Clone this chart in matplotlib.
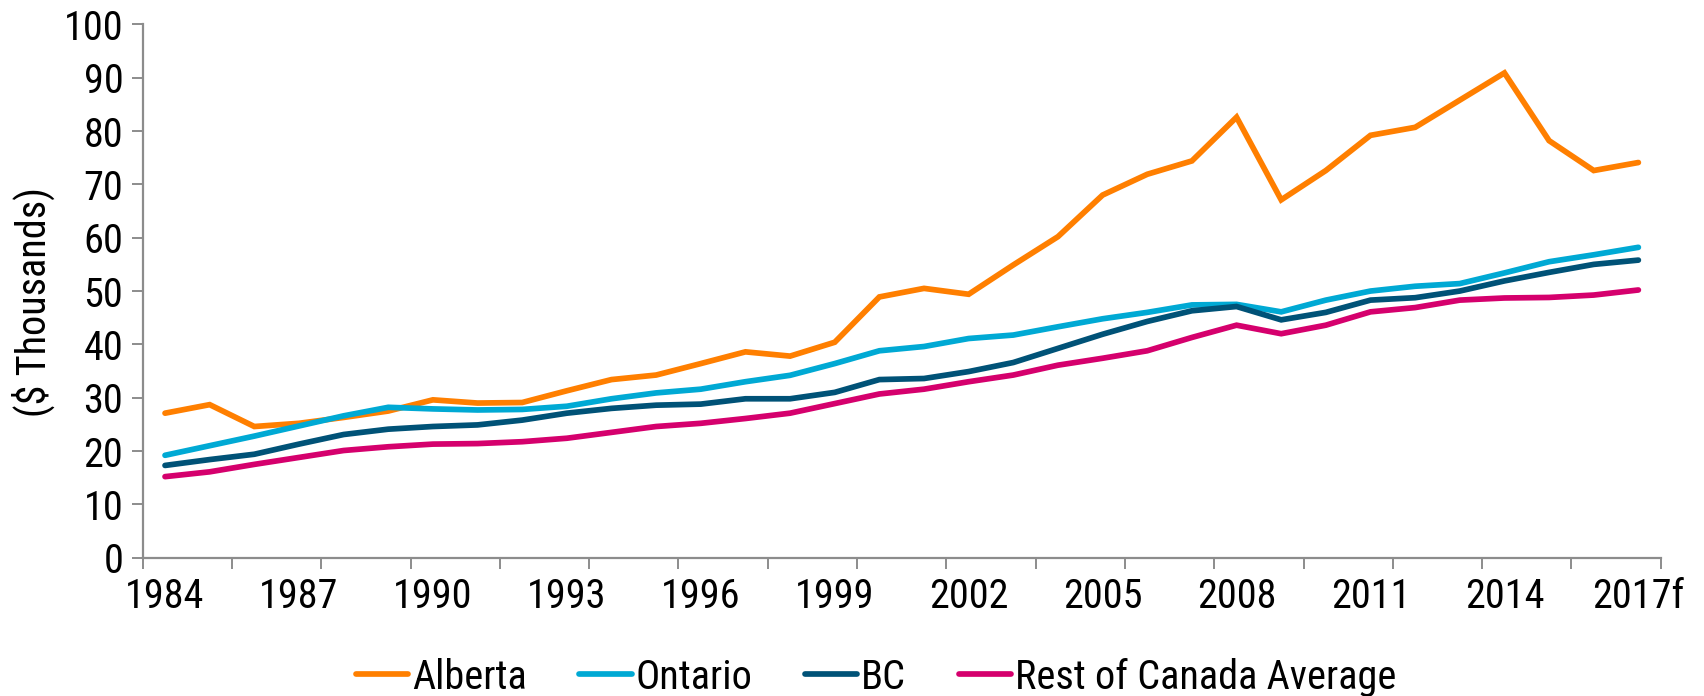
import matplotlib
matplotlib.use("Agg")
import matplotlib.pyplot as plt
from matplotlib import font_manager as fm
from matplotlib.ticker import FixedLocator, NullFormatter, FixedFormatter

# pick a narrow Arial-like face if present (reference uses a tall narrow sans)
installed = {f.name for f in fm.fontManager.ttflist}
choices = [("Roboto Condensed", 29), ("Liberation Sans Narrow", 32),
           ("Arial Narrow", 32), ("DejaVu Sans Condensed", 25),
           ("Liberation Sans", 27)]
FONT, FS = "Liberation Sans", 27
for name, size in choices:
    if name in installed:
        FONT, FS = name, size
        break
plt.rcParams['font.family'] = [FONT, 'DejaVu Sans']

years = [str(y) for y in range(1984, 2017)] + ["2017f"]
alberta = [27.1, 28.7, 24.6, 25.2, 26.3, 27.5, 29.6, 29.0, 29.1, 31.3,
           33.4, 34.25, 36.4, 38.6, 37.8, 40.4, 48.9, 50.5, 49.4, 54.9,
           60.2, 68.0, 71.9, 74.4, 82.6, 67.1, 72.6, 79.2, 80.7, 85.8,
           90.9, 78.2, 72.6, 74.1]
ontario = [19.2, 21.0, 22.8, 24.7, 26.6, 28.2, 27.9, 27.7, 27.8, 28.4,
           29.8, 30.9, 31.6, 33.0, 34.2, 36.4, 38.8, 39.6, 41.1, 41.75,
           43.3, 44.8, 46.0, 47.4, 47.5, 46.1, 48.3, 50.0, 50.9, 51.4,
           53.4, 55.5, 56.8, 58.2]
bc = [17.3, 18.4, 19.4, 21.3, 23.1, 24.1, 24.6, 24.9, 25.8, 27.1,
      28.0, 28.6, 28.8, 29.8, 29.8, 31.0, 33.4, 33.6, 34.9, 36.6,
      39.25, 41.9, 44.3, 46.3, 47.1, 44.6, 46.0, 48.3, 48.75, 50.0,
      51.9, 53.5, 55.0, 55.8]
rest = [15.2, 16.1, 17.5, 18.8, 20.1, 20.8, 21.3, 21.4, 21.75, 22.4,
        23.5, 24.6, 25.2, 26.1, 27.1, 28.9, 30.7, 31.6, 33.0, 34.25,
        36.1, 37.4, 38.8, 41.3, 43.6, 42.0, 43.6, 46.1, 46.9, 48.3,
        48.7, 48.8, 49.25, 50.2]

series = [("Alberta", alberta, "#FF7F00"),
          ("Ontario", ontario, "#00A9D4"),
          ("BC", bc, "#005277"),
          ("Rest of Canada Average", rest, "#D5006D")]

fig = plt.figure(figsize=(17.04, 6.96), dpi=100)
ax = fig.add_axes([142.7/1704, 1-557.7/696, (1660.7-142.7)/1704, (557.7-24.4)/696])

x = list(range(len(years)))
for name, vals, col in series:
    ax.plot(x, vals, color=col, lw=4.1, label=name,
            solid_capstyle='round', solid_joinstyle='miter')

gray = "#8C8C8C"
ax.set_xlim(-0.5, len(years)-0.5)
ax.set_ylim(0, 100)
for s in ['top', 'right']:
    ax.spines[s].set_visible(False)
for s in ['left', 'bottom']:
    ax.spines[s].set_color(gray)
    ax.spines[s].set_linewidth(1.6)

ax.set_yticks(range(0, 101, 10))
ax.tick_params(axis='y', direction='out', length=8, width=1.4, color=gray,
               labelsize=FS, pad=6)

# x: tick marks every 2 categories between points, labels every 3
ax.xaxis.set_major_locator(FixedLocator([i - 0.5 for i in range(0, len(years)+1, 2)]))
ax.xaxis.set_major_formatter(NullFormatter())
lab_pos = list(range(0, len(years), 3))
ax.xaxis.set_minor_locator(FixedLocator(lab_pos))
ax.xaxis.set_minor_formatter(FixedFormatter([years[i] for i in lab_pos]))
ax.tick_params(axis='x', which='major', direction='out', length=8, width=1.4, color=gray)
ax.tick_params(axis='x', which='minor', length=0, labelsize=FS, pad=14)

fig.text(33/1704, 1-302/696, "($ Thousands)", rotation=90, ha='center', va='center',
         fontsize=FS)

ax.legend(loc='center', bbox_to_anchor=(876/1704, 1-677/696), bbox_transform=fig.transFigure,
          ncol=4, frameon=False, fontsize=FS, handlelength=1.3, handletextpad=0.1,
          columnspacing=1.3, borderpad=0)

fig.savefig("out.png", dpi=100)
